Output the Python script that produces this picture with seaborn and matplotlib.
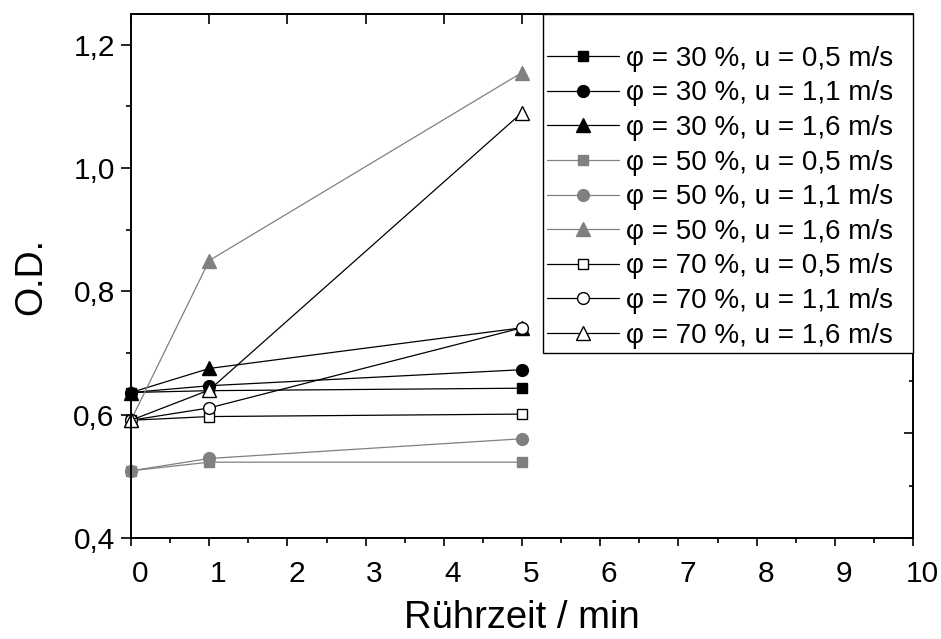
import numpy as np
import pandas as pd
import matplotlib
matplotlib.use("Agg")
import matplotlib.pyplot as plt
import seaborn as sns
from matplotlib.ticker import MultipleLocator, FuncFormatter
from matplotlib.transforms import ScaledTranslation

sns.set_style("ticks")
plt.rcParams["font.family"] = ["Liberation Sans", "DejaVu Sans"]
plt.rcParams["text.color"] = "black"
plt.rcParams["axes.labelcolor"] = "black"
plt.rcParams["xtick.color"] = "black"
plt.rcParams["ytick.color"] = "black"
plt.rcParams["axes.edgecolor"] = "black"

# ---- data ----
times = [0, 1, 5]
labels = [
    "φ = 30 %, u = 0,5 m/s",
    "φ = 30 %, u = 1,1 m/s",
    "φ = 30 %, u = 1,6 m/s",
    "φ = 50 %, u = 0,5 m/s",
    "φ = 50 %, u = 1,1 m/s",
    "φ = 50 %, u = 1,6 m/s",
    "φ = 70 %, u = 0,5 m/s",
    "φ = 70 %, u = 1,1 m/s",
    "φ = 70 %, u = 1,6 m/s",
]
phi30_u05 = [0.636, 0.639, 0.643]
phi30_u11 = [0.636, 0.647, 0.673]
phi30_u16 = [0.636, 0.675, 0.741]
phi50_u05 = [0.509, 0.523, 0.523]
phi50_u11 = [0.509, 0.529, 0.561]
phi50_u16 = [0.591, 0.850, 1.155]
phi70_u05 = [0.591, 0.597, 0.601]
phi70_u11 = [0.591, 0.611, 0.741]
phi70_u16 = [0.591, 0.640, 1.090]
series = [phi30_u05, phi30_u11, phi30_u16,
          phi50_u05, phi50_u11, phi50_u16,
          phi70_u05, phi70_u11, phi70_u16]

# styles
GRAY = "#808080"
markers = ["s", "o", "^"] * 3
line_colors = ["black"] * 3 + [GRAY] * 3 + ["black"] * 3
face_colors = ["black"] * 3 + [GRAY] * 3 + ["white"] * 3
edge_colors = ["black"] * 3 + [GRAY] * 3 + ["black"] * 3
msizes = [7.5, 8.5, 9.5] * 3

fig = plt.figure(figsize=(9.41, 6.39), dpi=100)
ax = fig.add_axes([131 / 941, 1 - 538 / 639, (913 - 131) / 941, (538 - 14) / 639])

for i, (lab, vals) in enumerate(zip(labels, series)):
    df = pd.DataFrame({"t": times, "od": vals})
    sns.lineplot(data=df, x="t", y="od", ax=ax, color=line_colors[i],
                 marker=markers[i], markersize=msizes[i],
                 markerfacecolor=face_colors[i], markeredgecolor=edge_colors[i],
                 markeredgewidth=1.0, linewidth=0.9, label=lab, clip_on=False)

ax.set_xlim(0, 10)
ax.set_ylim(0.4, 1.25)
ax.xaxis.set_major_locator(MultipleLocator(1))
ax.xaxis.set_minor_locator(MultipleLocator(0.5))
ax.yaxis.set_major_locator(MultipleLocator(0.2))
ax.yaxis.set_minor_locator(MultipleLocator(0.1))
ax.yaxis.set_major_formatter(FuncFormatter(lambda v, p: f"{v:.1f}".replace(".", ",")))
ax.xaxis.set_major_formatter(FuncFormatter(lambda v, p: f"{v:.0f}"))

ax.tick_params(axis="both", which="major", labelsize=21.5, width=1.2,
               color="black", labelcolor="black")
ax.tick_params(axis="y", which="major", direction="out", length=7.2, pad=4.5)
ax.tick_params(axis="y", which="minor", direction="out", length=3.6, width=1.2, color="black")
ax.tick_params(axis="x", which="major", direction="out", length=5.8, pad=10)
ax.tick_params(axis="x", which="minor", direction="out", length=3.6, width=1.2, color="black")

for s in ax.spines.values():
    s.set_visible(True)
    s.set_color("black")
    s.set_linewidth(1.2)

# shift x tick labels slightly right as in the reference
for lbl in ax.get_xticklabels():
    lbl.set_transform(lbl.get_transform() + ScaledTranslation(9 / 100, 0, fig.dpi_scale_trans))

ax.set_xlabel("Rührzeit / min", fontsize=27.5, labelpad=9, color="black")
ax.set_ylabel("O.D.", fontsize=27, labelpad=17, color="black")

# top axis: inward major ticks only
top = ax.secondary_xaxis("top")
top.xaxis.set_major_locator(MultipleLocator(1))
top.tick_params(axis="x", which="major", direction="in", length=7.2, width=1.2,
                labeltop=False, color="black")
top.tick_params(axis="x", which="minor", length=0)
top.spines["top"].set_linewidth(1.2)
top.spines["top"].set_color("black")

# right axis: independent inward ticks
right = ax.twinx()
right.set_ylim(0, 1)
right.yaxis.set_major_locator(MultipleLocator(0.2))
right.yaxis.set_minor_locator(MultipleLocator(0.1))
right.tick_params(axis="y", which="major", direction="in", length=6.5, width=1.2,
                  labelright=False, color="black")
right.tick_params(axis="y", which="minor", direction="in", length=3, width=1.2, color="black")
for s in right.spines.values():
    s.set_linewidth(1.2)
    s.set_color("black")

handles, labs = ax.get_legend_handles_labels()
if ax.legend_:
    ax.legend_.remove()
x0 = (543 - 131) / 782
leg = right.legend(handles, labs, loc="upper left", mode="expand",
                   bbox_to_anchor=(x0, 0.0, 1.0 - x0, 1.0),
                   bbox_transform=ax.transAxes, borderaxespad=0.0,
                   fontsize=20, title=" ", title_fontsize=15,
                   frameon=True, fancybox=False, edgecolor="black",
                   framealpha=1.0, handlelength=2.6, handletextpad=0.25,
                   labelspacing=0.31, borderpad=0.15, labelcolor="black")
leg.get_frame().set_linewidth(1.0)

fig.savefig("out.png", dpi=100)
